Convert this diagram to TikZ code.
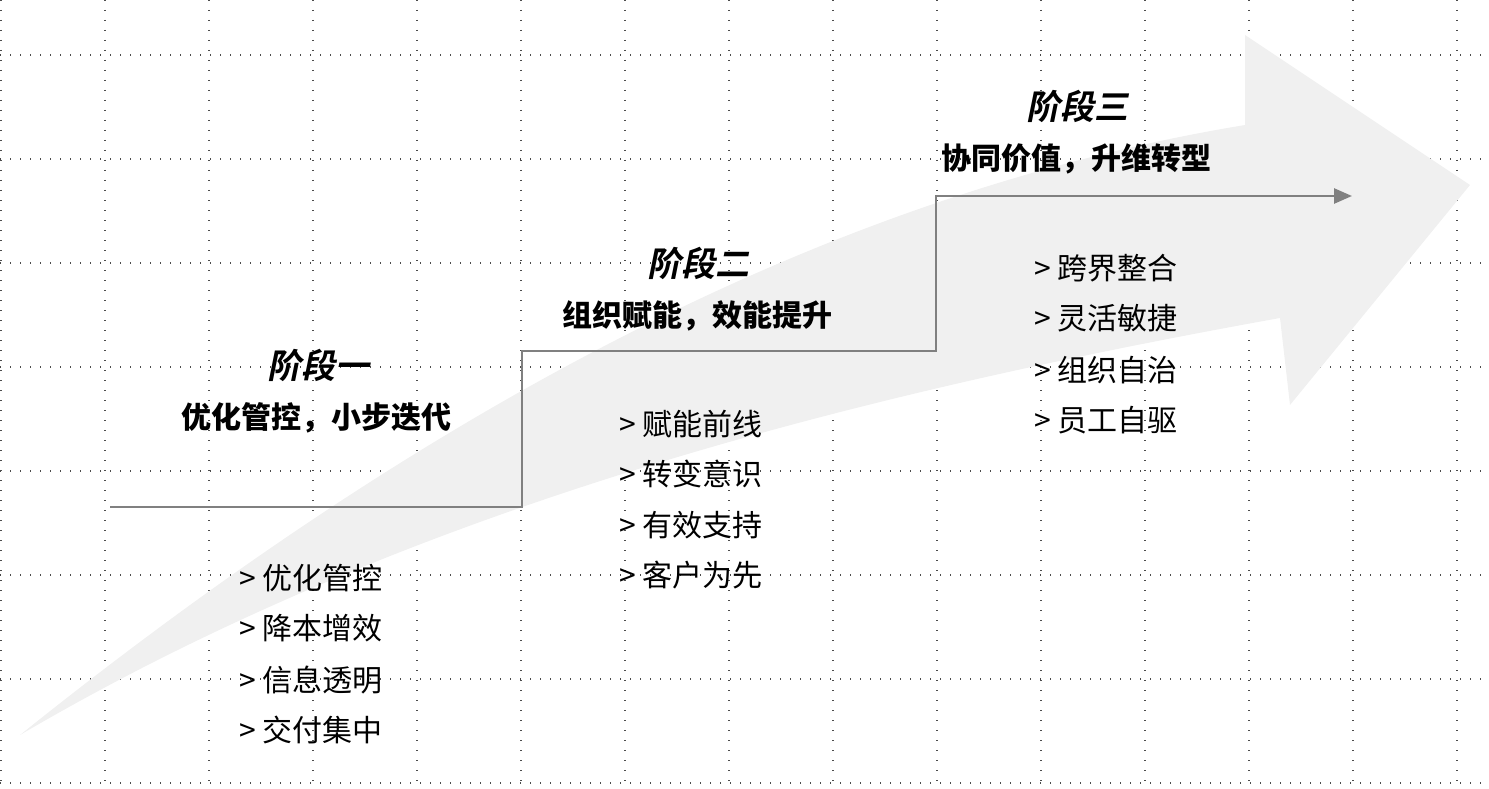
\documentclass[tikz,border=0pt]{standalone}
\usepackage{fontspec}
\setmainfont{Noto Sans CJK SC}
\newfontfamily\cjkbold{Noto Sans CJK SC}[BoldFont={* Bold}]
\newfontfamily\cjkslant{Noto Sans CJK SC Bold}[FakeSlant=0.2]
\usetikzlibrary{arrows.meta}
\tikzset{
  grid/.style={line width=1.4pt,dash pattern=on 1.4pt off 8.6pt,black!70},
  stair/.style={line width=2.6pt,color=gray},
  stagetitle/.style={font=\cjkslant\fontsize{34}{36}\selectfont},
  stagesub/.style={font=\bfseries\fontsize{30}{32}\selectfont},
  item/.style={anchor=west,font=\fontsize{30}{32}\selectfont}
}
\begin{document}
\begin{tikzpicture}[x=1pt,y=-1pt,line cap=butt,line join=miter]
\useasboundingbox (0,0) rectangle (1489,789);
% background grid
\foreach \gx in {1,105,...,1489} \draw[grid] (\gx,0) -- (\gx,789);
\foreach \gy in {55,159,...,789} \draw[grid] (0,\gy) -- (1489,\gy);
% big arrow
\fill[black!6] (20,735) .. controls (450,390) and (850,190) .. (1245,125)
  -- (1245,35) -- (1470,185) -- (1290,405) -- (1280,318)
  .. controls (880,390) and (420,500) .. cycle;
% stairs
\coordinate (s0) at (110,507);
\coordinate (s1) at (522,507);
\coordinate (s2) at (522,351);
\coordinate (s3) at (936,351);
\coordinate (s4) at (936,196);
\coordinate (s5) at (1352,196);
\draw[stair,-{Triangle[length=18pt,width=15pt]}] (s0) -- (s1) -- (s2) -- (s3) -- (s4) -- (s5);
% stage one
\node[stagetitle] (t1) at (318,365) {阶段一};
\node[stagesub] (u1) at (316,418) {优化管控，小步迭代};
\node[item] (a1) at (236,578) {> 优化管控};
\node[item] (a2) at (236,628) {> 降本增效};
\node[item] (a3) at (236,680) {> 信息透明};
\node[item] (a4) at (236,730) {> 交付集中};
% stage two
\node[stagetitle] (t2) at (698,263) {阶段二};
\node[stagesub] (u2) at (697,316) {组织赋能，效能提升};
\node[item] (b1) at (616,424) {> 赋能前线};
\node[item] (b2) at (616,474) {> 转变意识};
\node[item] (b3) at (616,525) {> 有效支持};
\node[item] (b4) at (616,575) {> 客户为先};
% stage three
\node[stagetitle] (t3) at (1077,106) {阶段三};
\node[stagesub] (u3) at (1076,159) {协同价值，升维转型};
\node[item] (c1) at (1031,268) {> 跨界整合};
\node[item] (c2) at (1031,318) {> 灵活敏捷};
\node[item] (c3) at (1031,370) {> 组织自治};
\node[item] (c4) at (1031,420) {> 员工自驱};
\end{tikzpicture}
\end{document}
